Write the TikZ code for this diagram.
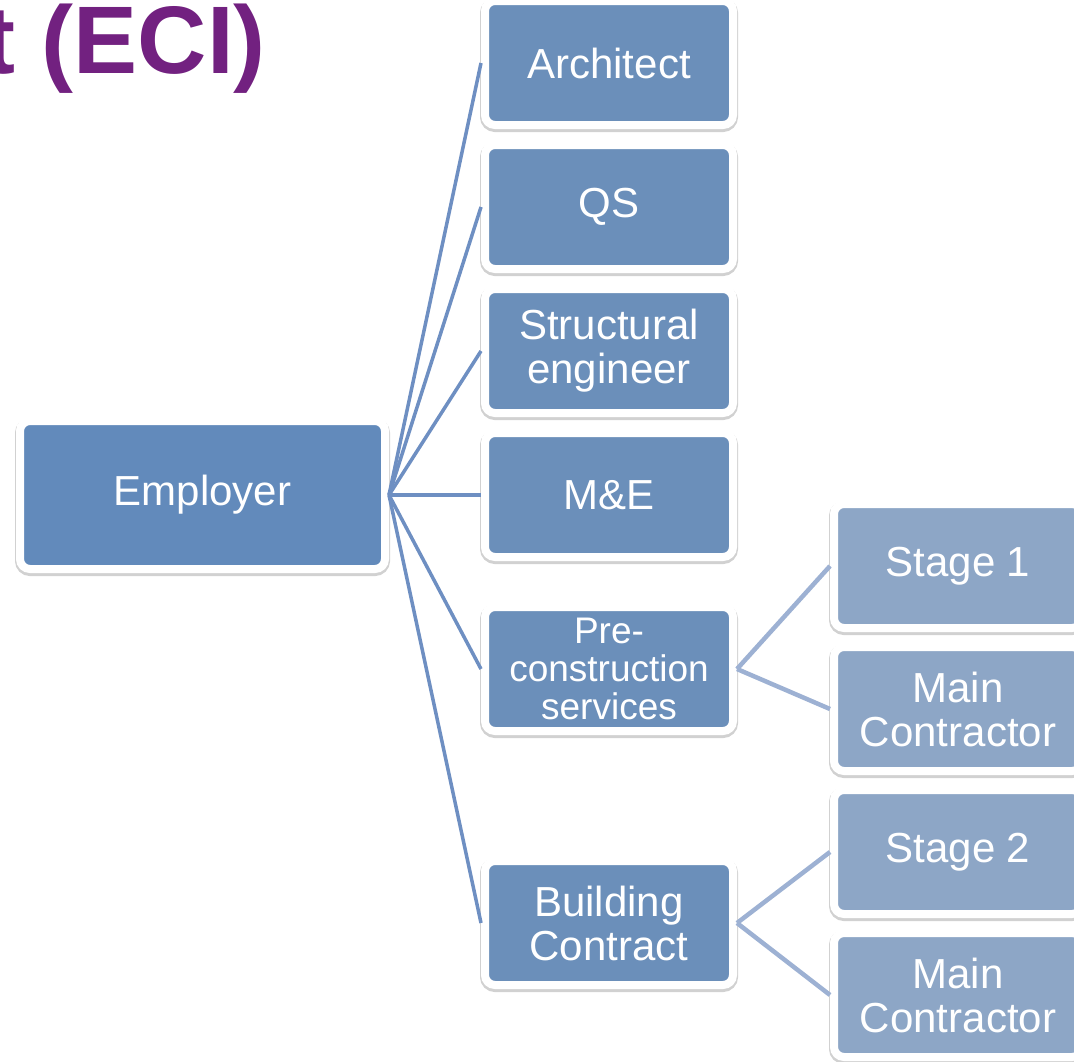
\documentclass[tikz,border=0pt]{standalone}
\usepackage{fontspec}
\setmainfont{Liberation Sans}
\usetikzlibrary{shadows}
\definecolor{eciPurple}{RGB}{114,33,128}
\definecolor{empBlue}{RGB}{98,138,187}
\definecolor{midBlue}{RGB}{107,143,186}
\definecolor{subBlue}{RGB}{141,166,198}
\definecolor{lineBlue}{RGB}{110,143,194}
\definecolor{subLineBlue}{RGB}{157,177,211}

\begin{document}
\begin{tikzpicture}[x=1pt,y=1pt,node distance=144pt]
  \tikzstyle{box}=[rectangle,rounded corners=10pt,draw=white,line width=8pt,fill=midBlue,text=white,
    minimum width=248pt,minimum height=124pt,inner sep=0pt,align=center,
    font=\fontsize{42}{44}\selectfont,
    drop shadow={shadow xshift=0pt,shadow yshift=-2pt,opacity=.18,fill=black,draw=black,line width=10pt}]
  \tikzstyle{sub}=[box,fill=subBlue]
  \tikzstyle{link}=[draw=lineBlue,line width=3.5pt]
  \tikzstyle{sublink}=[draw=subLineBlue,line width=4.5pt]

  \path[use as bounding box,clip] (0,0) rectangle (1074,-1061);

  \node[anchor=base east,inner sep=0pt,text=eciPurple,font=\fontsize{96}{96}\selectfont\bfseries] (T) at (266,-73) {t (ECI)};

  \node[box,fill=empBlue,minimum width=365pt,minimum height=148pt] (A) at (202.5,-495) {Employer};
  \node[box] (E) [node distance=406.5pt,right of=A] {M\&E};
  \node[box] (D) [above of=E] {Structural\\engineer};
  \node[box] (C) [above of=D] {QS};
  \node[box] (B) [above of=C] {Architect};
  \node[box,font=\fontsize{37}{38}\selectfont] (F) [node distance=174pt,below of=E] {Pre-\\construction\\services};
  \node[box] (G) [node distance=254pt,below of=F] {Building\\Contract};
  \node[sub] (H) [node distance=349pt,right of=F,yshift=103pt] {Stage 1};
  \node[sub] (I) [node distance=143pt,below of=H] {Main\\Contractor};
  \node[sub] (J) [node distance=143pt,below of=I] {Stage 2};
  \node[sub] (K) [node distance=143pt,below of=J] {Main\\Contractor};

  \path (A.east) edge[link] (B.west)
                 edge[link] (C.west)
                 edge[link] (D.west)
                 edge[link] (E.west)
                 edge[link] (F.west)
                 edge[link] (G.west)
        (F.east) edge[sublink] (H.west)
                 edge[sublink] (I.west)
        (G.east) edge[sublink] (J.west)
                 edge[sublink] (K.west);
\end{tikzpicture}
\end{document}
